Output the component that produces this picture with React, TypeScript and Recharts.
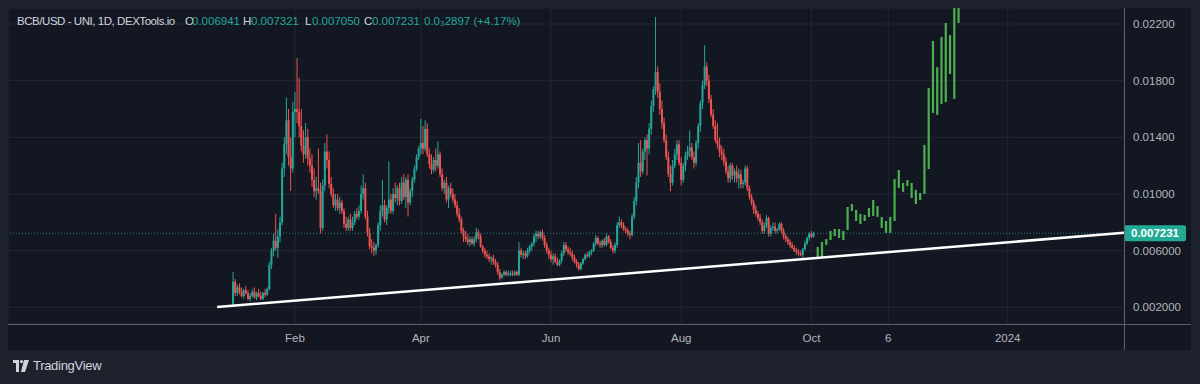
import { ComposedChart, Bar, XAxis, YAxis, CartesianGrid, ReferenceLine } from "recharts";

const UP = "#26a69a";
const DOWN = "#ef5350";
const PATTERN = "#4caf50";
const FONT = "'Liberation Sans', Arial, sans-serif";

// daily candles, prices in units of 0.0001 USD: [open, high, low, close]
// day index counts from 1 Jan 2023
const FIRST_DAY = 2;
const jan = [
  [22, 45, 21, 38], [38, 40, 28, 30], [30, 36, 28, 34], [34, 37, 29, 31], [31, 34, 27, 28],
  [28, 33, 26, 32], [32, 35, 29, 30], [30, 32, 25, 26], [26, 30, 24, 28], [28, 33, 27, 31],
  [31, 34, 26, 27], [27, 31, 25, 30], [30, 33, 27, 28], [28, 31, 25, 26], [26, 31, 25, 30],
  [30, 33, 27, 29], [29, 34, 28, 33], [33, 52, 32, 50], [50, 62, 47, 60], [60, 72, 56, 67],
  [67, 86, 60, 62], [62, 75, 55, 70], [70, 84, 66, 80], [80, 122, 78, 118], [118, 140, 112, 135],
  [135, 168, 128, 152], [152, 160, 120, 126], [126, 140, 102, 118], [118, 165, 115, 158],
];
const feb = [
  [158, 172, 140, 160], [160, 196, 150, 158], [158, 182, 140, 148], [148, 160, 130, 134],
  [134, 145, 122, 128], [128, 150, 125, 140], [140, 146, 120, 125], [125, 132, 115, 120],
  [120, 128, 105, 110], [110, 118, 98, 102], [102, 112, 96, 104], [104, 132, 100, 102],
  [102, 108, 72, 76], [76, 110, 74, 106], [106, 136, 102, 130], [130, 142, 118, 124],
  [124, 130, 104, 107], [107, 112, 98, 100], [100, 104, 90, 92], [92, 100, 88, 96],
  [96, 100, 88, 90], [90, 98, 86, 94], [94, 96, 86, 88], [88, 90, 76, 79],
  [79, 84, 74, 76], [76, 84, 74, 82], [82, 86, 74, 76], [76, 84, 74, 80],
];
const mar = [
  [80, 88, 78, 86], [86, 90, 82, 84], [84, 92, 82, 88], [88, 106, 86, 100], [100, 114, 96, 104],
  [104, 108, 82, 84], [84, 88, 70, 72], [72, 76, 61, 63], [63, 68, 58, 62], [62, 66, 56, 60],
  [60, 65, 57, 64], [64, 80, 62, 78], [78, 92, 74, 88], [88, 110, 84, 92], [92, 96, 80, 82],
  [82, 92, 78, 90], [90, 123, 86, 96], [96, 100, 86, 88], [88, 104, 86, 100], [100, 108, 94, 97],
  [97, 106, 92, 104], [104, 108, 92, 95], [95, 112, 93, 108], [108, 114, 96, 98], [98, 112, 90, 110],
  [110, 114, 84, 94], [94, 104, 92, 102], [102, 112, 98, 110], [110, 120, 108, 118], [118, 128, 116, 126],
  [126, 134, 124, 132],
];
const apr = [
  [132, 153, 128, 136], [136, 148, 128, 132], [132, 152, 130, 146], [146, 150, 126, 128], [128, 132, 118, 121],
  [121, 128, 114, 117], [117, 126, 115, 124], [124, 132, 116, 120], [120, 137, 118, 128], [128, 130, 112, 114],
  [114, 118, 102, 104], [104, 110, 100, 108], [108, 112, 94, 96], [96, 106, 90, 104], [104, 108, 98, 100],
  [100, 104, 94, 96], [96, 100, 90, 92], [92, 95, 84, 86], [86, 90, 80, 82], [82, 84, 72, 74],
  [74, 76, 66, 70], [70, 74, 66, 68], [68, 72, 64, 66], [66, 70, 63, 68], [68, 70, 64, 65],
  [65, 70, 63, 68], [68, 76, 66, 73], [73, 75, 68, 70], [70, 72, 62, 63], [63, 64, 58, 60],
];
const may = [
  [60, 62, 55, 57], [57, 60, 54, 56], [56, 58, 52, 54], [54, 56, 50, 55], [55, 57, 50, 52],
  [52, 54, 48, 50], [50, 52, 43, 45], [45, 47, 39, 41], [41, 44, 40, 43], [43, 46, 42, 45],
  [45, 46, 42, 43], [43, 46, 42, 44], [44, 46, 42, 44], [44, 46, 42, 43], [43, 46, 42, 45],
  [45, 46, 42, 43], [43, 66, 42, 60], [60, 62, 55, 57], [57, 60, 54, 58], [58, 60, 54, 56],
  [56, 62, 55, 60], [60, 64, 58, 63], [63, 66, 60, 65], [65, 72, 63, 70], [70, 74, 66, 72],
  [72, 74, 68, 70], [70, 74, 68, 73], [73, 75, 67, 69], [69, 71, 62, 64], [64, 66, 58, 60],
  [60, 62, 54, 57],
];
const jun = [
  [57, 60, 52, 54], [54, 58, 50, 56], [56, 58, 51, 52], [52, 55, 49, 50], [50, 54, 49, 53],
  [53, 60, 51, 58], [58, 66, 56, 64], [64, 66, 59, 61], [61, 63, 57, 59], [59, 62, 56, 58],
  [58, 60, 53, 55], [55, 57, 51, 52], [52, 54, 48, 50], [50, 52, 46, 47], [47, 52, 46, 51],
  [51, 55, 50, 54], [54, 58, 53, 57], [57, 59, 55, 56], [56, 60, 55, 59], [59, 61, 57, 60],
  [60, 66, 59, 65], [65, 71, 63, 69], [69, 70, 64, 65], [65, 67, 62, 64], [64, 68, 62, 67],
  [67, 69, 63, 64], [64, 72, 63, 70], [70, 71, 65, 66], [66, 68, 61, 62], [62, 64, 58, 60],
];
const jul = [
  [60, 66, 58, 64], [64, 80, 62, 78], [78, 84, 76, 80], [80, 82, 76, 78], [78, 80, 74, 75],
  [75, 77, 72, 74], [74, 76, 70, 72], [72, 74, 68, 71], [71, 86, 70, 84], [84, 98, 82, 95],
  [95, 112, 92, 108], [108, 136, 104, 122], [122, 138, 112, 116], [116, 132, 114, 130], [130, 140, 124, 138],
  [138, 142, 113, 132], [132, 150, 128, 146], [146, 166, 142, 162], [162, 176, 158, 174], [174, 225, 170, 186],
  [186, 190, 168, 172], [172, 178, 156, 160], [160, 166, 146, 150], [150, 154, 136, 138], [138, 142, 124, 126],
  [126, 130, 112, 114], [114, 120, 102, 108], [108, 124, 106, 120], [120, 132, 118, 128], [128, 138, 124, 135],
  [135, 138, 120, 122],
];
const aug = [
  [122, 126, 106, 110], [110, 122, 108, 120], [120, 130, 116, 127], [127, 134, 124, 130], [130, 145, 126, 133],
  [133, 136, 124, 126], [126, 130, 118, 122], [122, 138, 120, 136], [136, 150, 132, 148], [148, 166, 144, 164],
  [164, 180, 160, 177], [177, 205, 174, 190], [190, 193, 176, 180], [180, 184, 164, 167], [167, 170, 154, 156],
  [156, 160, 146, 148], [148, 152, 136, 138], [138, 150, 132, 135], [135, 140, 126, 130], [130, 134, 124, 128],
  [128, 132, 120, 123], [123, 126, 114, 116], [116, 120, 108, 111], [111, 122, 108, 120], [120, 122, 110, 113],
  [113, 118, 108, 116], [116, 120, 108, 111], [111, 118, 104, 114], [114, 117, 104, 107], [107, 110, 104, 108],
  [108, 120, 106, 118],
];
const sep = [
  [118, 120, 102, 104], [104, 106, 96, 98], [98, 100, 92, 94], [94, 96, 86, 89], [89, 92, 84, 86],
  [86, 88, 81, 83], [83, 86, 78, 80], [80, 82, 72, 74], [74, 80, 72, 78], [78, 85, 76, 83],
  [83, 84, 70, 72], [72, 78, 70, 76], [76, 80, 74, 77], [77, 80, 72, 74], [74, 76, 72, 75],
  [75, 80, 74, 79], [79, 80, 72, 74], [74, 76, 68, 70], [70, 72, 66, 68], [68, 70, 64, 66],
  [66, 68, 62, 64], [64, 66, 61, 62], [62, 64, 59, 60], [60, 62, 57, 59], [59, 61, 56, 58],
  [58, 60, 56, 57], [57, 62, 55, 61], [61, 67, 60, 65], [65, 70, 64, 69], [69, 73, 67, 72],
];
const oct = [
  [72, 74, 69, 70], [69.41, 73.21, 69.41, 72.31],
];
const candles = [...jan, ...feb, ...mar, ...apr, ...may, ...jun, ...jul, ...aug, ...sep, ...oct];

// projected "bars pattern" drawing after the last candle (low / high)
const patternDays = [
  276, 278, 280, 282, 284, 286, 288, 290, 292, 294, 296, 298, 300, 302, 304, 306, 308,
  310, 312, 314, 316, 318, 320, 322, 324, 326, 328, 330, 332, 334, 336, 338, 340, 342,
];
const patternLow = [
  55.5, 55.5, 64, 67.5, 70.3, 68.9, 67.5, 74.6, 88, 80.9, 78.8, 80.9, 83.8, 84.5, 83.8, 76, 72.5,
  72.5, 80.9, 104.2, 101.5, 105.6, 97.2, 92.9, 95.8, 100, 117.6, 157.2, 155.8, 163.5, 164.9, 184.7, 167.1, 220.7,
];
const patternHigh = [
  62.6, 66.1, 68.2, 73.9, 75.3, 75.3, 73.9, 90.8, 92.9, 88.7, 85.9, 85.2, 90.1, 95.8, 91.5, 83.8, 80.9,
  83.8, 110.6, 116.9, 107.8, 109.9, 107.8, 102.9, 100.7, 134.6, 174.8, 208, 189.6, 210.8, 220.7, 212.2, 240, 240,
];

const xTicks = [31, 90, 151, 212, 273, 309, 365];
const xTickLabels = ["Feb", "Apr", "Jun", "Aug", "Oct", "6", "2024"];
const yTicks = [20, 60, 100, 140, 180, 220];
const yTickLabels = ["0.002000", "0.006000", "0.01000", "0.01400", "0.01800", "0.02200"];

const lastPrice = 72.31;
const lastPriceLabel = "0.007231";
const trendDays = [-5.5, 419.5];
const trendPrices = [20.2, 72.6];

const rows = [
  ...candles.map(([o, h, l, c], i) => ({ day: FIRST_DAY + i, o, h, l, c, lo: l, hi: h, kind: "c" })),
  ...patternDays.map((d, i) => ({ day: d, lo: patternLow[i], hi: patternHigh[i], kind: "p" })),
];

function Candle(props: any) {
  const { x, y, width, height, payload } = props;
  if (x == null || !payload) return null;
  const cx = x + width / 2;
  const top = Math.min(y, y + height);
  const h = Math.abs(height);
  if (payload.kind === "p") {
    return <rect x={cx - 1.1} y={top} width={2.2} height={Math.max(h, 1)} fill={PATTERN} />;
  }
  const k = h / (payload.hi - payload.lo || 1);
  const yo = top + (payload.hi - payload.o) * k;
  const yc = top + (payload.hi - payload.c) * k;
  const col = payload.c >= payload.o ? UP : DOWN;
  return (
    <g>
      <line x1={cx} x2={cx} y1={top} y2={top + h} stroke={col} strokeWidth={1} />
      <rect x={cx - 1} y={Math.min(yo, yc)} width={2} height={Math.max(1, Math.abs(yc - yo))} fill={col} />
    </g>
  );
}

function PriceTag(props: any) {
  const vb = props.viewBox;
  if (!vb) return null;
  const x = vb.x + vb.width;
  return (
    <g>
      <rect x={x} y={vb.y - 8} width={62} height={16} rx={2} fill="#22ab94" />
      <text x={x + 31} y={vb.y + 4} textAnchor="middle" fill="#ffffff" fontSize={11.5} fontWeight={700} fontFamily={FONT}>
        {lastPriceLabel}
      </text>
    </g>
  );
}

const header = [
  { t: "BCB/USD - UNI, 1D, DEXTools.io", x: 17, c: "#d1d4dc", ls: -0.45 },
  { t: "O", x: 185, c: "#d1d4dc", ls: 0 }, { t: "0.006941", x: 192, c: UP, ls: 0 },
  { t: "H", x: 243, c: "#d1d4dc", ls: 0 }, { t: "0.007321", x: 251, c: UP, ls: 0 },
  { t: "L", x: 305, c: "#d1d4dc", ls: 0 }, { t: "0.007050", x: 312, c: UP, ls: 0 },
  { t: "C", x: 364, c: "#d1d4dc", ls: 0 }, { t: "0.007231", x: 372, c: UP, ls: 0 },
  { t: "0.0\u20832897 (+4.17%)", x: 424, c: UP, ls: 0 },
];

export default function App() {
  return (
    <div style={{ position: "absolute", left: 0, top: 0, width: 1200, height: 384, background: "#1e222d", overflow: "hidden", fontFamily: FONT }}>
      <div style={{ position: "absolute", left: 8, top: 8, width: 1183, height: 342, background: "#131722" }}>
        <ComposedChart width={1183} height={342} data={rows} margin={{ top: 0, right: 0, bottom: 0, left: 0 }}>
          <CartesianGrid stroke="#232733" strokeWidth={1} />
          <XAxis
            dataKey="day"
            type="number"
            domain={[-103.5, 419.5]}
            allowDataOverflow
            ticks={xTicks}
            tickFormatter={(v) => xTickLabels[xTicks.indexOf(v)] ?? ""}
            axisLine={false}
            tickLine={false}
            tickMargin={4}
            height={26}
            tick={{ fill: "#b2b5be", fontSize: 11.5, fontFamily: FONT }}
          />
          <YAxis
            orientation="right"
            type="number"
            domain={[8.2, 231.3]}
            allowDataOverflow
            ticks={yTicks}
            tickFormatter={(v) => yTickLabels[yTicks.indexOf(v)] ?? ""}
            axisLine={false}
            tickLine={false}
            tickMargin={3}
            width={67}
            tick={{ fill: "#b2b5be", fontSize: 11.5, fontFamily: FONT, textAnchor: "start" }}
          />
          <ReferenceLine y={lastPrice} stroke={UP} strokeOpacity={0.7} strokeDasharray="1 2" label={<PriceTag />} />
          <Bar dataKey={(r: any) => [r.lo, r.hi]} shape={<Candle />} barSize={2} isAnimationActive={false} />
          <ReferenceLine
            segment={[{ x: trendDays[0], y: trendPrices[0] }, { x: trendDays[1], y: trendPrices[1] }]}
            stroke="#ffffff"
            strokeWidth={2.5}
            ifOverflow="visible"
          />
        </ComposedChart>
        <div style={{ position: "absolute", left: 1116, top: 0, width: 1, height: 342, background: "#5d606b" }} />
        <div style={{ position: "absolute", left: 0, top: 316, width: 1183, height: 1, background: "#5d606b" }} />
        {header.map((p) => (
          <span key={p.t} style={{ position: "absolute", left: p.x - 8, top: 7, fontSize: 11.5, color: p.c, whiteSpace: "nowrap", letterSpacing: p.ls }}>
            {p.t}
          </span>
        ))}
      </div>
      <div style={{ position: "absolute", left: 13, top: 358, display: "flex", alignItems: "center", gap: 4 }}>
        <svg width={16} height={12} viewBox="0 0 16 12">
          <path d="M0 0h6v12H3V3H0z" fill="#d1d4dc" />
          <circle cx={8.5} cy={1.6} r={1.6} fill="#d1d4dc" />
          <path d="M11 0h5l-4 12H8z" fill="#d1d4dc" />
        </svg>
        <span style={{ color: "#d1d4dc", fontSize: 13, letterSpacing: -0.3 }}>TradingView</span>
      </div>
    </div>
  );
}
